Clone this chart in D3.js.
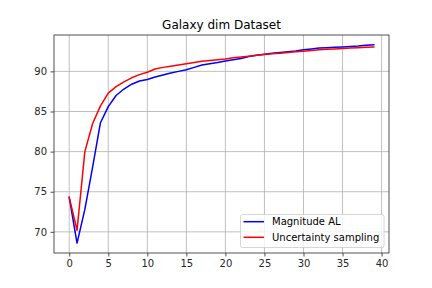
<!DOCTYPE html>
<html><head><meta charset="utf-8">
<script src="https://cdn.jsdelivr.net/npm/d3@7"></script>
<style>body{margin:0;background:#fff}svg{display:block;font-family:"DejaVu Sans",sans-serif}</style>
</head><body><svg id="c" width="432" height="288"></svg>
<script>
const iterations = d3.range(0, 40);
const magnitudeAL = [74.3,68.6,72.8,78.1,83.6,85.6,87.0,87.8,88.4,88.8,89.0,89.3,89.55,89.8,90.0,90.2,90.5,90.8,90.95,91.1,91.3,91.45,91.6,91.85,92.0,92.15,92.25,92.35,92.45,92.55,92.7,92.8,92.9,92.95,93.0,93.05,93.1,93.15,93.25,93.3];
const uncertainty = [74.3,70.2,80.0,83.5,85.7,87.3,88.1,88.7,89.2,89.6,89.9,90.3,90.5,90.65,90.8,90.95,91.1,91.25,91.35,91.45,91.55,91.7,91.8,91.9,92.0,92.1,92.2,92.25,92.35,92.45,92.5,92.6,92.7,92.75,92.8,92.85,92.9,92.95,93.0,93.05];
const xTicks = [0,5,10,15,20,25,30,35,40];
const yTicks = [70,75,80,85,90];
const seriesNames = ["Magnitude AL","Uncertainty sampling"];
const seriesColors = ["#0000ff","#ff0000"];
const title = "Galaxy dim Dataset";

const L=54, R=389, T=35, B=253;
const svg = d3.select("#c");
const xmin=0, xmax=39, xm=(xmax-xmin)*0.05;
const all = magnitudeAL.concat(uncertainty);
const ymin=d3.min(all), ymax=d3.max(all), ym=(ymax-ymin)*0.05;
const x = d3.scaleLinear().domain([xmin-xm, xmax+xm]).range([L,R]);
const y = d3.scaleLinear().domain([ymin-ym, ymax+ym]).range([B,T]);

// grid
svg.append("g").selectAll("line").data(xTicks).join("line")
  .attr("x1",d=>x(d)).attr("x2",d=>x(d)).attr("y1",T).attr("y2",B)
  .attr("stroke","#b0b0b0").attr("stroke-width",0.8);
svg.append("g").selectAll("line").data(yTicks).join("line")
  .attr("y1",d=>y(d)).attr("y2",d=>y(d)).attr("x1",L).attr("x2",R)
  .attr("stroke","#b0b0b0").attr("stroke-width",0.8);

// lines
const series=[magnitudeAL, uncertainty];
series.forEach((s,i)=>{
  svg.append("path").datum(s)
    .attr("fill","none").attr("stroke",seriesColors[i]).attr("stroke-width",1.5)
    .attr("stroke-linejoin","round").attr("stroke-linecap","square")
    .attr("d", d3.line().x((d,j)=>x(iterations[j])).y(d=>y(d)));
});

// axes
const xa = svg.append("g").attr("transform",`translate(0,${B})`)
  .call(d3.axisBottom(x).tickValues(xTicks).tickSize(3.5).tickPadding(3.5).tickFormat(d3.format("d")));
const ya = svg.append("g").attr("transform",`translate(${L},0)`)
  .call(d3.axisLeft(y).tickValues(yTicks).tickSize(3.5).tickPadding(3.5).tickFormat(d3.format("d")));
[xa,ya].forEach(a=>{
  a.select(".domain").remove();
  a.selectAll("text").attr("font-size",10).attr("fill","#262626").attr("font-family","DejaVu Sans");
  a.selectAll("line").attr("stroke","#262626").attr("stroke-width",0.8);
});
svg.append("rect").attr("x",L).attr("y",T).attr("width",R-L).attr("height",B-T)
  .attr("fill","none").attr("stroke","#262626").attr("stroke-width",0.8);

// title
svg.append("text").attr("x",(L+R)/2).attr("y",T-6).attr("text-anchor","middle")
  .attr("font-size",12).attr("fill","#000").text(title);

// legend
const lg = svg.append("g");
lg.append("rect").attr("x",240.5).attr("y",214.5).attr("width",143.5).attr("height",33)
  .attr("rx",2).attr("fill","#fff").attr("fill-opacity",0.8).attr("stroke","#cccccc").attr("stroke-width",0.8);
seriesNames.forEach((n,i)=>{
  const cy = 221.7 + i*15.6;
  lg.append("line").attr("x1",243.5).attr("x2",264).attr("y1",cy).attr("y2",cy)
    .attr("stroke",seriesColors[i]).attr("stroke-width",1.5);
  lg.append("text").attr("x",272).attr("y",cy).attr("dy","0.35em")
    .attr("font-size",10).attr("fill","#000").text(n);
});
</script></body></html>
